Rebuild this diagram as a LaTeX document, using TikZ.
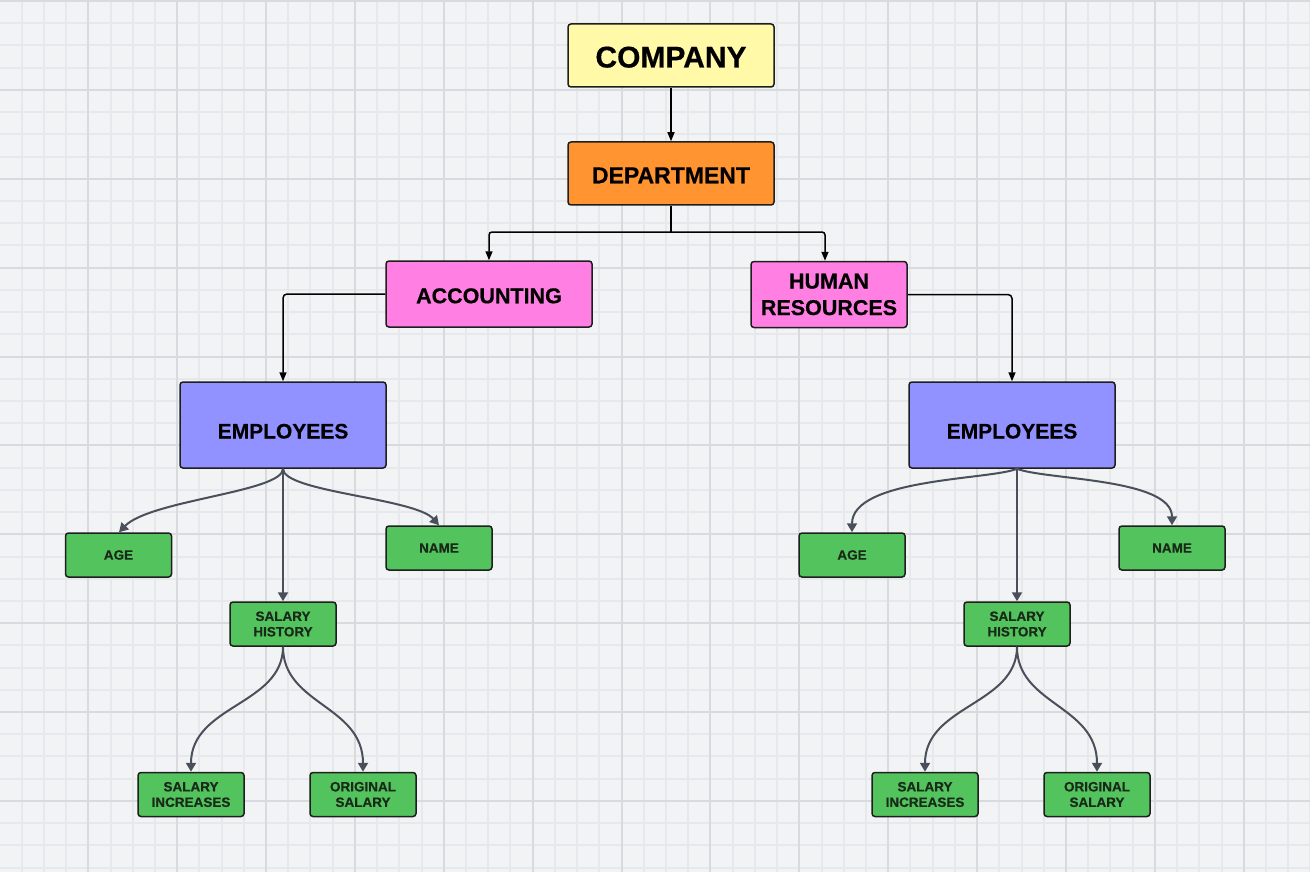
\documentclass[tikz,border=0pt]{standalone}
\usepackage{fontspec}
\setmainfont{Liberation Sans}[BoldFeatures={FakeBold=0.5}]
\usetikzlibrary{arrows.meta}
\definecolor{bgc}{HTML}{F2F3F5}
\definecolor{gminor}{HTML}{E7E8EB}
\definecolor{gmajor}{HTML}{D9DADE}
\definecolor{cyel}{HTML}{FFF9A8}
\definecolor{corg}{HTML}{FF9431}
\definecolor{cpink}{HTML}{FF80E2}
\definecolor{cpur}{HTML}{9191FF}
\definecolor{cgrn}{HTML}{53C45D}
\definecolor{bord}{HTML}{1E1E1E}
\definecolor{gline}{HTML}{4A505B}
\definecolor{stxt}{HTML}{1A2A1A}
\tikzset{
  box/.style={draw=bord, line width=1.5pt, rounded corners=3pt, inner sep=0pt, align=center, text=black, font=\bfseries},
  bigbox/.style={box, minimum width=206pt, minimum height=63pt},
  midbox/.style={box, minimum width=206pt, minimum height=86pt, fill=cpur, font=\bfseries\fontsize{21}{26}\selectfont, text height=27pt, text depth=0pt},
  leaf/.style={box, fill=cgrn, minimum width=106pt, minimum height=44pt, text=stxt, font=\bfseries\fontsize{13.5}{15.5}\selectfont},
  link/.style={draw=black, line width=1.5pt, -{Triangle[length=9pt,width=7pt]}},
  glink/.style={draw=gline, line width=2pt, -{Triangle[length=9pt,width=10pt]}},
  minorl/.style={draw=gminor, line width=1.5pt},
  majorl/.style={draw=gmajor, line width=1.5pt}
}
\begin{document}
\begin{tikzpicture}[x=1pt,y=-1pt]
\fill[bgc] (0,0) rectangle (1310,872);
\useasboundingbox (0,0) rectangle (1310,872);
\foreach \i in {0,...,59} {\draw[minorl] ({round(-0.6+\i*22.22)},0) -- ({round(-0.6+\i*22.22)},872);}
\foreach \i in {0,...,39} {\draw[minorl] (0,{round(1+\i*22.22)}) -- (1310,{round(1+\i*22.22)});}
\foreach \i in {0,...,14} {\draw[majorl] ({round(-0.6+\i*88.88)},0) -- ({round(-0.6+\i*88.88)},872);}
\foreach \i in {0,...,9} {\draw[majorl] (0,{round(1+\i*88.88)}) -- (1310,{round(1+\i*88.88)});}

\node[bigbox, fill=cyel, font=\bfseries\fontsize{30}{36}\selectfont, text height=24pt, text depth=0pt] (company) at (671,55.5) {COMPANY};
\node[bigbox, fill=corg, font=\bfseries\fontsize{23}{28}\selectfont, text height=19.5pt, text depth=0pt] (dept) at (671,173.5) {DEPARTMENT};
\node[box, fill=cpink, minimum width=206pt, minimum height=66pt, font=\bfseries\fontsize{21.5}{26}\selectfont, text height=18.5pt, text depth=0pt] (acc) at (489,294) {ACCOUNTING};
\node[box, fill=cpink, minimum width=156pt, minimum height=66pt, font=\bfseries\fontsize{21.5}{26.5}\selectfont] (hr) at (829,294.5) {HUMAN\\RESOURCES};
\node[midbox] (empl) at (283,425) {EMPLOYEES};
\node[midbox] (empr) at (1012,425) {EMPLOYEES};

\node[leaf] (agel) at (118.5,555) {AGE};
\node[leaf] (namel) at (439,548) {NAME};
\node[leaf] (shl) at (283,624) {SALARY\\HISTORY};
\node[leaf] (sil) at (191,794.5) {SALARY\\INCREASES};
\node[leaf] (osl) at (363,794.5) {ORIGINAL\\SALARY};

\node[leaf] (ager) at (852,555) {AGE};
\node[leaf] (namer) at (1172,548) {NAME};
\node[leaf] (shr) at (1017,624) {SALARY\\HISTORY};
\node[leaf] (sir) at (925,794.5) {SALARY\\INCREASES};
\node[leaf] (osr) at (1097,794.5) {ORIGINAL\\SALARY};

\coordinate (j) at (671,232);
\draw[link] (company.south) -- (dept.north);
\draw[line width=1.5pt] (dept.south) -- (j);
\draw[link, rounded corners=3pt] (j) -| (acc.north);
\draw[link, rounded corners=3pt] (j) -| ([xshift=-4pt]hr.north);
\draw[link, rounded corners=4pt] (acc.west) -| (empl.north);
\draw[link, rounded corners=4pt] (hr.east) -| (empr.north);

\draw[glink] (empl.south) .. controls (283,492) and (150,500) .. ([xshift=0.5pt]agel.north);
\draw[glink] (empl.south) .. controls (283,492) and (415,498) .. (namel.north);
\draw[glink] (empl.south) -- (shl.north);
\draw[glink] (shl.south) .. controls (283,705) and (191,705) .. (sil.north);
\draw[glink] (shl.south) .. controls (283,705) and (363,705) .. (osl.north);

\draw[glink] ([xshift=5pt]empr.south) .. controls (990,480) and (852,478) .. (ager.north);
\draw[glink] ([xshift=5pt]empr.south) .. controls (1045,480) and (1172,478) .. (namer.north);
\draw[glink] ([xshift=5pt]empr.south) -- (shr.north);
\draw[glink] (shr.south) .. controls (1017,705) and (925,705) .. (sir.north);
\draw[glink] (shr.south) .. controls (1017,705) and (1097,705) .. (osr.north);
\end{tikzpicture}
\end{document}
